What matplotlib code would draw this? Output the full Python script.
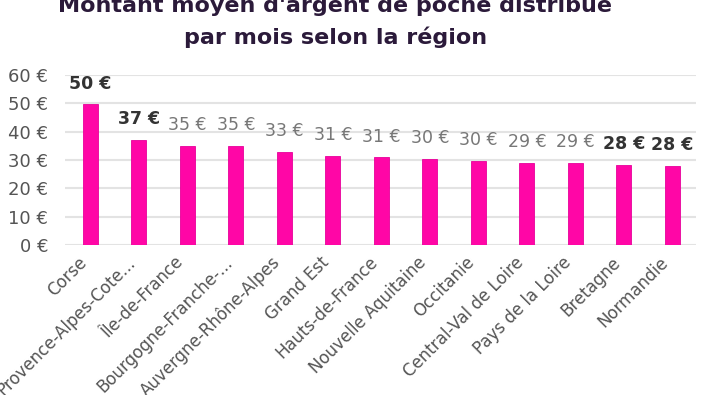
import matplotlib.pyplot as plt

plt.rcParams['font.family'] = ['DejaVu Sans']

regions = ['Corse', 'Provence-Alpes-Cote...', 'Île-de-France', 'Bourgogne-Franche-...',
           'Auvergne-Rhône-Alpes', 'Grand Est', 'Hauts-de-France', 'Nouvelle Aquitaine',
           'Occitanie', 'Central-Val de Loire', 'Pays de la Loire', 'Bretagne', 'Normandie']
montants = [49.6, 37.2, 35.1, 35.0, 32.7, 31.3, 30.9, 30.4, 29.8, 29.0, 28.9, 28.3, 27.8]
etiquettes = ['50 €', '37 €', '35 €', '35 €', '33 €', '31 €', '31 €', '30 €', '30 €',
              '29 €', '29 €', '28 €', '28 €']
en_gras = [True, True, False, False, False, False, False, False, False, False, False, True, True]
y_ticks = [0, 10, 20, 30, 40, 50, 60]

fig = plt.figure(figsize=(7.03, 3.95), dpi=100)
ax = fig.add_axes([0.0925, 0.38, 0.897, 0.43])

x = range(len(regions))
ax.bar(x, montants, width=0.31, color='#ff06a6', edgecolor='#e8009a', linewidth=0.6, zorder=3)

for i, (v, lab, b) in enumerate(zip(montants, etiquettes, en_gras)):
    ax.annotate(lab, xy=(i, v), xytext=(0, 15), textcoords='offset points',
                ha='center', va='center', fontsize=12.5 if b else 12.5,
                fontweight='bold' if b else 'normal',
                color='#333333' if b else '#777777')

ax.set_ylim(0, 60)
ax.set_xlim(-0.52, 12.48)
ax.set_yticks(y_ticks)
ax.set_yticklabels([f'{t} €' for t in y_ticks], fontsize=13, color='#555555')
ax.set_xticks(list(x))
ax.set_xticklabels(regions, rotation=45, ha='right', fontsize=12, color='#555555')
ax.tick_params(axis='y', length=0, pad=12)
ax.tick_params(axis='x', length=0, pad=6)
ax.yaxis.grid(True, color='#e3e3e3', linewidth=1.5, zorder=0)
for s in ax.spines.values():
    s.set_visible(False)

fig.text(0.477, 0.987, "Montant moyen d'argent de poche distribué",
         ha='center', va='center', fontsize=16, fontweight='bold', color='#2b1a3a')
fig.text(0.477, 0.906, "par mois selon la région",
         ha='center', va='center', fontsize=16, fontweight='bold', color='#2b1a3a')

fig.savefig('out.png', dpi=100)
